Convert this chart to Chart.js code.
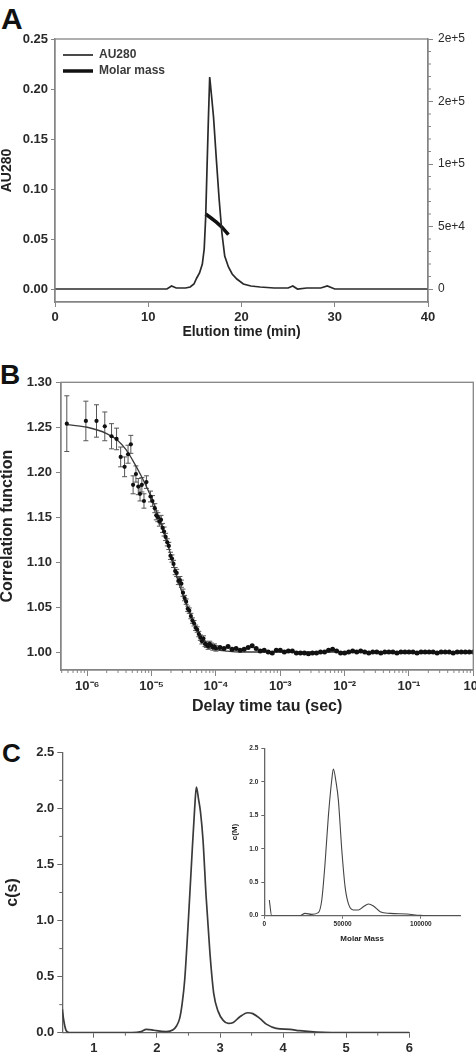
<!DOCTYPE html>
<html lang="en">
<head>
<meta charset="UTF-8">
<title>SEC-MALS, DLS and c(s) distribution</title>
<script src="https://cdn.jsdelivr.net/npm/chart.js"></script>
<style>
  body { margin: 0; background: #fff; width: 476px; height: 1057px; overflow: hidden; position: relative;
         font-family: "Liberation Sans", Arial, sans-serif; }
  canvas { position: absolute; }
  .tag { position: absolute; font-weight: bold; color: #111; line-height: 1; }
</style>
</head>
<body>
<div class="tag" style="left:1px;top:4px;font-size:30px">A</div>
<div class="tag" style="left:0;top:361px;font-size:28px">B</div>
<div class="tag" style="left:2px;top:740px;font-size:26px">C</div>

<canvas id="chartA" width="500" height="345" style="left:0;top:0"></canvas>
<canvas id="chartB" width="500" height="360" style="left:0;top:360px"></canvas>
<canvas id="chartC" width="476" height="327" style="left:0;top:730px"></canvas>
<canvas id="chartInset" width="250" height="210" style="left:225px;top:740px"></canvas>

<script>
// ---------- panel A: SEC trace + molar mass ----------
const elutionTime = [0, 10, 12.0, 12.5, 13.0, 14.0, 14.5, 14.9, 15.2, 15.5, 15.8, 16.0, 16.16, 16.3, 16.45, 16.59,
                     16.8, 17.0, 17.3, 17.6, 17.9, 18.2, 18.6, 19.0, 19.5, 20.2, 21.0, 22.0, 23.5, 25.0, 25.5,
                     26.0, 27.0, 28.5, 29.2, 30.0, 33.0, 40];
const au280 = [0, 0, 0, 0.003, 0.001, 0.001, 0.002, 0.005, 0.011, 0.016, 0.025, 0.04, 0.072, 0.12, 0.17, 0.212,
               0.192, 0.172, 0.13, 0.09, 0.056, 0.033, 0.022, 0.015, 0.01, 0.005, 0.003, 0.002, 0.001, 0.001, 0.003,
               0.0, 0.001, 0.001, 0.003, 0.0, 0, 0];
const massTime = [16.15, 16.7, 17.3, 17.9, 18.6];
const molarMass = [60000, 57000, 53500, 49500, 43500];
const auTicks = [0, 0.05, 0.10, 0.15, 0.20, 0.25];
const auTickLabels = ['0.00', '0.05', '0.10', '0.15', '0.20', '0.25'];
const massTicks = [0, 50000, 100000, 150000, 200000];
const massTickLabels = ['0', '5e+4', '1e+5', '2e+5', '2e+5'];
const timeTicks = [0, 10, 20, 30, 40];
const timeTickLabels = ['0', '10', '20', '30', '40'];

// ---------- panel B: DLS correlation ----------
const tau = [4.8e-7, 9.5e-7, 1.39e-6, 1.87e-6, 2.38e-6, 2.85e-6, 3.3e-6, 3.8e-6, 4.3e-6, 4.75e-6,
             5.15e-6, 5.7e-6, 6.2e-6, 6.6e-6, 7.05e-6, 7.6e-6, 8.3e-6, 9.6e-6, 1.03e-5,
             1.12e-5, 1.18e-5, 1.25e-5, 1.32e-5, 1.40e-5, 1.48e-5, 1.56e-5, 1.65e-5, 1.75e-5, 1.85e-5,
             1.96e-5, 2.07e-5, 2.19e-5, 2.32e-5, 2.45e-5, 2.60e-5, 2.75e-5, 2.90e-5, 3.07e-5, 3.25e-5,
             3.44e-5, 3.64e-5, 3.85e-5, 4.07e-5, 4.31e-5, 4.56e-5, 4.82e-5, 5.10e-5, 5.40e-5, 5.71e-5,
             6.04e-5, 6.39e-5, 6.76e-5, 7.15e-5, 7.56e-5, 8.00e-5, 8.46e-5, 8.95e-5, 9.47e-5, 1.00e-4,
             1.155e-4, 1.334e-4, 1.54e-4, 1.778e-4, 2.054e-4, 2.371e-4, 2.738e-4, 3.162e-4, 3.652e-4, 4.217e-4,
             4.87e-4, 5.623e-4, 6.494e-4, 7.499e-4, 8.66e-4,
             1e-3, 1.155e-3, 1.334e-3, 1.54e-3, 1.778e-3, 2.054e-3, 2.371e-3, 2.738e-3, 3.162e-3, 3.652e-3,
             4.217e-3, 4.87e-3, 5.623e-3, 6.494e-3, 7.499e-3, 8.66e-3,
             1e-2, 1.155e-2, 1.334e-2, 1.54e-2, 1.778e-2, 2.054e-2, 2.371e-2, 2.738e-2, 3.162e-2, 3.652e-2,
             4.217e-2, 4.87e-2, 5.623e-2, 6.494e-2, 7.499e-2, 8.66e-2,
             0.1, 0.1155, 0.1334, 0.154, 0.1778, 0.2054, 0.2371, 0.2738, 0.3162, 0.3652,
             0.4217, 0.487, 0.5623, 0.6494, 0.7499, 0.866, 1];
const corr = [1.254, 1.257, 1.257, 1.251, 1.240, 1.237, 1.217, 1.206, 1.220, 1.231,
              1.186, 1.198, 1.184, 1.176, 1.186, 1.168, 1.189, 1.173, 1.168,
              1.160, 1.152, 1.150, 1.145, 1.147, 1.138, 1.134, 1.128, 1.122, 1.118,
              1.107, 1.104, 1.098, 1.090, 1.088, 1.079, 1.080, 1.076, 1.066, 1.060,
              1.056, 1.048, 1.046, 1.040, 1.035, 1.032, 1.027, 1.025, 1.020, 1.016,
              1.012, 1.015, 1.009, 1.008, 1.006, 1.009, 1.007, 1.005, 1.006, 1.004,
              1.005, 1.004, 1.006, 1.003, 1.004, 1.002, 1.003, 1.005, 1.007, 1.004,
              1.001, 1.002, 1.000, 0.999, 1.002,
              1.002, 1.000, 1.001, 1.001, 0.999, 0.999, 0.999, 0.998, 0.999, 0.999,
              1.000, 1.000, 1.002, 1.003, 1.001, 0.999,
              0.999, 1.000, 1.001, 1.000, 1.001, 1.000, 0.999, 1.000, 1.000, 0.999,
              1.000, 1.000, 1.000, 0.999, 1.000, 1.000,
              1.000, 1.000, 0.999, 1.000, 1.000, 1.000, 1.000, 0.999, 1.000, 1.000,
              1.000, 0.999, 1.000, 1.000, 1.000, 1.000, 1.000];
// error bars (only the separable ones, the tail merges into one line)
const corrErr = [0.031, 0.022, 0.018, 0.016, 0.014, 0.012, 0.011, 0.011, 0.010, 0.010,
                 0.010, 0.009, 0.009, 0.008, 0.008, 0.008, 0.007, 0.006, 0.006,
                 0.005, 0.005, 0.005, 0.005, 0.005, 0.005, 0.005, 0.004, 0.004, 0.004,
                 0.004, 0.004, 0.004, 0.004, 0.004, 0.004, 0.004, 0.004, 0.004, 0.003,
                 0.003, 0.003, 0.003, 0.003, 0.003, 0.003, 0.003, 0.003, 0.003, 0.003,
                 0.003, 0.003, 0.003, 0.003, 0.003, 0.003, 0.003, 0.003, 0.003, 0.003];
const fitTau = [4.8e-7, 1e-6, 2e-6, 3e-6, 4e-6, 5e-6, 7e-6, 1e-5, 1.3e-5, 1.6e-5, 2e-5, 2.5e-5, 3.2e-5,
                4e-5, 5e-5, 6.3e-5, 8e-5, 1e-4, 1.5e-4, 2.5e-4, 1e-3, 1e-2, 1e-1, 1];
const fitCorr = [1.253, 1.250, 1.243, 1.235, 1.225, 1.214, 1.195, 1.171, 1.149, 1.131, 1.107, 1.082, 1.060,
                 1.042, 1.027, 1.015, 1.007, 1.003, 1.001, 1.000, 1.000, 1.000, 1.000, 1.000];
const corrTicks = [1.00, 1.05, 1.10, 1.15, 1.20, 1.25, 1.30];
const corrTickLabels = ['1.00', '1.05', '1.10', '1.15', '1.20', '1.25', '1.30'];
const tauTicks = [1e-6, 1e-5, 1e-4, 1e-3, 1e-2, 1e-1, 1];
const tauTickLabels = ['10⁻⁶', '10⁻⁵', '10⁻⁴', '10⁻³', '10⁻²', '10⁻¹', '10⁰'];

// ---------- panel C: c(s) and c(M) ----------
const sedCoef = [0.5, 0.52, 0.56, 0.61, 0.8, 1.2, 1.6, 1.75, 1.83, 1.92, 1.99, 2.15, 2.25, 2.31, 2.36, 2.40,
                 2.44, 2.49, 2.545, 2.60, 2.625, 2.66, 2.69, 2.73, 2.78, 2.84, 2.90, 2.97, 3.05, 3.13, 3.21,
                 3.31, 3.44, 3.52, 3.63, 3.74, 3.89, 4.11, 4.26, 4.53, 5.06, 5.5, 6.0];
const cs = [0.21, 0.12, 0.02, 0.0, 0.0, 0.0, 0.0, 0.01, 0.03, 0.026, 0.018, 0.01, 0.024, 0.06, 0.128, 0.26,
            0.47, 0.92, 1.48, 2.02, 2.19, 2.08, 1.97, 1.72, 1.21, 0.71, 0.35, 0.19, 0.11, 0.083, 0.092,
            0.14, 0.178, 0.17, 0.128, 0.074, 0.039, 0.03, 0.018, 0.006, 0.0, 0.0, 0.0];
const sTicks = [1, 2, 3, 4, 5, 6];
const sTickLabels = ['1', '2', '3', '4', '5', '6'];
const csTicks = [0, 0.5, 1.0, 1.5, 2.0, 2.5];
const csTickLabels = ['0.0', '0.5', '1.0', '1.5', '2.0', '2.5'];

const massM = [3200, 4700, 10000, 22800, 26000, 30300, 34500, 36700, 38800, 40900, 43100, 44100, 45800,
               47300, 49500, 51600, 53700, 56900, 60100, 63300, 66500, 69700, 74000, 80400, 91000, 99600,
               110000, 125000];
const cM = [0.234, 0.0, 0.0, 0.0, 0.035, 0.02, 0.045, 0.23, 0.78, 1.48, 2.03, 2.19, 2.0,
            1.73, 0.98, 0.43, 0.18, 0.085, 0.085, 0.134, 0.174, 0.144, 0.06, 0.035, 0.025, 0.005,
            0.0, 0.0];
const insetMassTicks = [0, 50000, 100000];
const insetMassLabels = ['0', '50000', '100000'];

const FONT = '"Liberation Sans", Arial, sans-serif';
const TEXT = '#2a2a2a';
const AXIS = '#858585';

Chart.defaults.font.family = FONT;
Chart.defaults.color = TEXT;
Chart.defaults.animation = false;
Chart.defaults.plugins.legend.display = false;
Chart.defaults.plugins.tooltip.enabled = false;

// force the size of an axis box so the plot area lands where it should
function fixSize(px) {
  return function (scale) {
    if (scale.isHorizontal()) scale.height = px; else scale.width = px;
    scale.paddingLeft = 0; scale.paddingRight = 0;
    scale.paddingTop = 0; scale.paddingBottom = 0;
  };
}

// put ticks exactly at the given values, labelled from the matching array
function setTicks(values) {
  return function (scale) {
    scale.ticks = values.map(v => ({ value: v }));
  };
}
function labelFrom(labels) {
  return (v, i) => labels[i];
}

function pts(xs, ys) {
  return xs.map((x, i) => ({ x: x, y: ys[i] }));
}

function frame(color) {
  return {
    id: 'frame',
    afterDraw(chart) {
      const a = chart.chartArea, ctx = chart.ctx;
      ctx.save();
      ctx.strokeStyle = color;
      ctx.lineWidth = 1.3;
      ctx.strokeRect(a.left, a.top, a.right - a.left, a.bottom - a.top);
      ctx.restore();
    }
  };
}

function minorTicks(list, color) {
  return {
    id: 'minorTicks',
    afterDraw(chart) {
      const ctx = chart.ctx;
      ctx.save();
      ctx.strokeStyle = color;
      ctx.lineWidth = 1;
      ctx.beginPath();
      list.forEach(m => {
        const s = chart.scales[m.axis];
        m.values.forEach(v => {
          const p = s.getPixelForValue(v);
          if (s.position === 'bottom') { ctx.moveTo(p, s.top); ctx.lineTo(p, s.top + m.len); }
          else if (s.position === 'left') { ctx.moveTo(s.right, p); ctx.lineTo(s.right - m.len, p); }
          else { ctx.moveTo(s.left, p); ctx.lineTo(s.left + m.len, p); }
        });
      });
      ctx.stroke();
      ctx.restore();
    }
  };
}

function axisStyle(color, tick) {
  return {
    grid: { drawOnChartArea: false, drawTicks: true, tickLength: tick, tickColor: color, tickWidth: 1 },
    border: { display: true, color: color, width: 1.3 }
  };
}

// ---------- chart A ----------
const massMinor = [];
for (let v = 10000; v < 200000; v += 10000) if (v % 50000) massMinor.push(v);

new Chart(document.getElementById('chartA'), {
  type: 'scatter',
  data: {
    datasets: [
      { label: 'AU280', data: pts(elutionTime, au280), showLine: true, pointRadius: 0,
        borderColor: '#2a2a2a', borderWidth: 1.7, tension: 0, yAxisID: 'y' },
      { label: 'Molar mass', data: pts(massTime, molarMass), showLine: true, pointRadius: 0,
        borderColor: '#111', borderWidth: 3.5, tension: 0, yAxisID: 'y1' }
    ]
  },
  options: {
    responsive: false,
    devicePixelRatio: 1,
    layout: { padding: { top: 39, left: 0, right: 0, bottom: 0 } },
    scales: {
      x: {
        type: 'linear', min: 0, max: 40, ...axisStyle(AXIS, 5),
        afterBuildTicks: setTicks(timeTicks),
        ticks: { autoSkip: false, maxRotation: 0, padding: 3, color: TEXT,
                 font: { size: 13, weight: 'bold' }, callback: labelFrom(timeTickLabels) },
        title: { display: true, text: 'Elution time (min)', color: '#222',
                 font: { size: 14, weight: 'bold', lineHeight: 1.2 }, padding: { top: 0, bottom: 4 } },
        afterFit: fixSize(43)
      },
      y: {
        position: 'left', min: -0.013, max: 0.25, ...axisStyle(AXIS, 4),
        afterBuildTicks: setTicks(auTicks),
        ticks: { autoSkip: false, padding: 3, color: TEXT,
                 font: { size: 13, weight: 'bold' }, callback: labelFrom(auTickLabels) },
        title: { display: true, text: 'AU280', color: '#222',
                 font: { size: 14, weight: 'bold', lineHeight: 1 }, padding: { top: 0, bottom: 0 } },
        afterFit: fixSize(55)
      },
      y1: {
        position: 'right', min: -10400, max: 200000, ...axisStyle(AXIS, 5),
        afterBuildTicks: setTicks(massTicks),
        ticks: { autoSkip: false, padding: 5, color: TEXT,
                 font: { size: 12 }, callback: labelFrom(massTickLabels) },
        afterFit: fixSize(72)
      }
    }
  },
  plugins: [
    frame(AXIS),
    minorTicks([{ axis: 'y1', values: massMinor, len: 3 }], AXIS),
    {
      id: 'legendAndRightTitle',
      afterDraw(chart) {
        const ctx = chart.ctx;
        ctx.save();
        ctx.strokeStyle = '#2a2a2a';
        ctx.lineWidth = 1.7;
        ctx.beginPath(); ctx.moveTo(63, 55); ctx.lineTo(93, 55); ctx.stroke();
        ctx.strokeStyle = '#111';
        ctx.lineWidth = 3.5;
        ctx.beginPath(); ctx.moveTo(63, 71); ctx.lineTo(93, 71); ctx.stroke();
        ctx.fillStyle = '#3a3a3a';
        ctx.font = 'bold 12px ' + FONT;
        ctx.textBaseline = 'middle';
        ctx.fillText(chart.data.datasets[0].label, 99, 55);
        ctx.fillText(chart.data.datasets[1].label, 99, 71);
        // right axis title, mostly outside the picture
        ctx.translate(481, 170);
        ctx.rotate(-Math.PI / 2);
        ctx.textAlign = 'center';
        ctx.fillStyle = '#222';
        ctx.font = 'bold 13px ' + FONT;
        ctx.fillText('Molar mass (Daltons)', 0, 0);
        ctx.restore();
      }
    }
  ]
});

// ---------- chart B ----------
const tauMinor = [];
for (let e = -7; e < 0; e++) for (let m = 2; m <= 9; m++) {
  const v = m * Math.pow(10, e);
  if (v > 3.9e-7 && v < 1) tauMinor.push(v);
}

new Chart(document.getElementById('chartB'), {
  type: 'scatter',
  data: {
    datasets: [
      { label: 'data', data: pts(tau, corr), showLine: false,
        pointRadius: ctx => (ctx.dataIndex < corrErr.length ? 2.1 : 2.5),
        backgroundColor: '#111', borderWidth: 0 },
      { label: 'fit', data: pts(fitTau, fitCorr), showLine: true, pointRadius: 0,
        borderColor: '#3a3a3a', borderWidth: 1.3, cubicInterpolationMode: 'monotone' }
    ]
  },
  options: {
    responsive: false,
    devicePixelRatio: 1,
    layout: { padding: { top: 22.3, left: 0, right: 26.7, bottom: 0 } },
    scales: {
      x: {
        type: 'logarithmic', min: 3.9e-7, max: 1, ...axisStyle(AXIS, 6),
        afterBuildTicks: setTicks(tauTicks),
        ticks: { autoSkip: false, maxRotation: 0, padding: 3, color: TEXT,
                 font: { size: 13, weight: 'bold' }, callback: labelFrom(tauTickLabels) },
        title: { display: true, text: 'Delay time tau (sec)', color: '#222',
                 font: { size: 16, weight: 'bold', lineHeight: 1 }, padding: { top: 0, bottom: 5 } },
        afterFit: fixSize(50)
      },
      y: {
        position: 'left', min: 0.98, max: 1.30, ...axisStyle(AXIS, 5),
        afterBuildTicks: setTicks(corrTicks),
        ticks: { autoSkip: false, padding: 4, color: TEXT,
                 font: { size: 13, weight: 'bold' }, callback: labelFrom(corrTickLabels) },
        title: { display: true, text: 'Correlation function', color: '#222',
                 font: { size: 16, weight: 'bold', lineHeight: 1 }, padding: { top: 0, bottom: 0 } },
        afterFit: fixSize(61)
      }
    }
  },
  plugins: [
    frame(AXIS),
    minorTicks([{ axis: 'x', values: tauMinor, len: 3 }], AXIS),
    {
      id: 'errorBars',
      beforeDatasetsDraw(chart) {
        const meta = chart.getDatasetMeta(0);
        const ys = chart.scales.y;
        const ctx = chart.ctx;
        ctx.save();
        ctx.strokeStyle = '#555';
        ctx.lineWidth = 1;
        ctx.beginPath();
        corrErr.forEach((e, i) => {
          const x = meta.data[i].x;
          const top = ys.getPixelForValue(corr[i] + e);
          const bot = ys.getPixelForValue(corr[i] - e);
          ctx.moveTo(x, top); ctx.lineTo(x, bot);
          ctx.moveTo(x - 2.5, top); ctx.lineTo(x + 2.5, top);
          ctx.moveTo(x - 2.5, bot); ctx.lineTo(x + 2.5, bot);
        });
        ctx.stroke();
        ctx.restore();
      }
    }
  ]
});

// ---------- chart C ----------
const C_AXIS = '#666';
new Chart(document.getElementById('chartC'), {
  type: 'scatter',
  data: {
    datasets: [
      { label: 'c(s)', data: pts(sedCoef, cs), showLine: true, pointRadius: 0,
        borderColor: '#3a3a3a', borderWidth: 1.7, cubicInterpolationMode: 'monotone' }
    ]
  },
  options: {
    responsive: false,
    devicePixelRatio: 1,
    layout: { padding: { top: 22.3, left: 0, right: 66.7, bottom: 0 } },
    scales: {
      x: {
        type: 'linear', min: 0.5, max: 6, ...axisStyle(C_AXIS, 5),
        afterBuildTicks: setTicks(sTicks),
        ticks: { autoSkip: false, maxRotation: 0, padding: 3, color: TEXT,
                 font: { size: 13, weight: 'bold' }, callback: labelFrom(sTickLabels) },
        afterFit: fixSize(24.3)
      },
      y: {
        position: 'left', min: 0, max: 2.5, ...axisStyle(C_AXIS, 5),
        afterBuildTicks: setTicks(csTicks),
        ticks: { autoSkip: false, padding: 3, color: TEXT,
                 font: { size: 13, weight: 'bold' }, callback: labelFrom(csTickLabels) },
        title: { display: true, text: 'c(s)', color: '#222',
                 font: { size: 16, weight: 'bold', lineHeight: 1 }, padding: { top: 5, bottom: 0 } },
        afterFit: fixSize(62.3)
      }
    }
  },
  plugins: [
    minorTicks([
      { axis: 'x', values: [1.5, 2.5, 3.5, 4.5, 5.5], len: 3 },
      { axis: 'y', values: [0.25, 0.75, 1.25, 1.75, 2.25], len: 3 }
    ], C_AXIS)
  ]
});

// ---------- inset c(M) ----------
new Chart(document.getElementById('chartInset'), {
  type: 'scatter',
  data: {
    datasets: [
      { label: 'c(M)', data: pts(massM, cM), showLine: true, pointRadius: 0,
        borderColor: '#444', borderWidth: 1.1, cubicInterpolationMode: 'monotone' }
    ]
  },
  options: {
    responsive: false,
    devicePixelRatio: 1,
    layout: { padding: { top: 8.3, left: 0, right: 15, bottom: 0 } },
    scales: {
      x: {
        type: 'linear', min: 0, max: 125000, ...axisStyle(C_AXIS, 3),
        afterBuildTicks: setTicks(insetMassTicks),
        ticks: { autoSkip: false, maxRotation: 0, padding: 2, color: TEXT,
                 font: { size: 6.5, weight: 'bold' }, callback: labelFrom(insetMassLabels) },
        title: { display: true, text: 'Molar Mass', color: '#222',
                 font: { size: 8, weight: 'bold', lineHeight: 1 }, padding: { top: 0, bottom: 7 } },
        afterFit: fixSize(34.3)
      },
      y: {
        position: 'left', min: 0, max: 2.5, ...axisStyle(C_AXIS, 3),
        afterBuildTicks: setTicks(csTicks),
        ticks: { autoSkip: false, padding: 3, color: TEXT,
                 font: { size: 6.5, weight: 'bold' }, callback: labelFrom(csTickLabels) },
        title: { display: true, text: 'c(M)', color: '#222',
                 font: { size: 8, weight: 'bold', lineHeight: 1 }, padding: { top: 6, bottom: 0 } },
        afterFit: fixSize(39.3)
      }
    }
  }
});
</script>
</body>
</html>
